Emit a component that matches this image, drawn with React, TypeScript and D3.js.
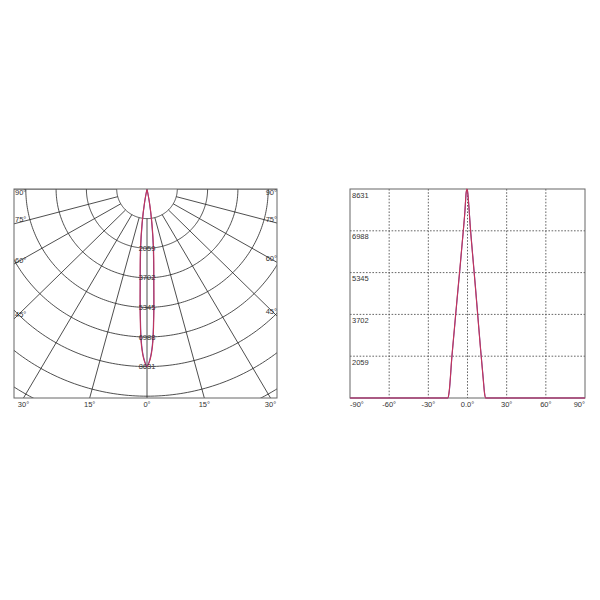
import React from 'react';
import * as d3 from 'd3';

// ---- data ----
// linear (cartesian) intensity curve, candela vs angle
const angles = [-90, -30, -16, -15, -14, -12, -10, -8, -6, -4, -2, -1, -0.5, 0, 1, 2, 4, 6, 8, 10, 12, 13, 14, 16, 30, 90];
const redValues = [0, 0, 0, 0, 300, 1700, 2900, 4100, 5250, 6450, 7700, 8500, 8631, 8560, 7950, 7150, 5850, 4600, 3300, 2000, 800, 200, 0, 0, 0, 0];
const blueValues = [0, 0, 0, 0, 250, 1650, 2850, 4050, 5200, 6420, 7680, 8480, 8600, 8540, 7970, 7200, 5900, 4650, 3350, 2050, 850, 250, 0, 0, 0, 0];
// polar curve, as drawn in the polar panel
const polarCurveAngles = [-90, -30, -12, -10, -8, -6, -4, -3, -2, -1, 0, 1, 2, 3, 4, 6, 8, 10, 12, 30, 90];
const polarRed = [0, 0, 0, 700, 1700, 3000, 4700, 6200, 7600, 8300, 8631, 8300, 7600, 6200, 4700, 3000, 1700, 700, 0, 0, 0];
const polarBlue = [0, 0, 0, 600, 1550, 2850, 4550, 6050, 7500, 8250, 8600, 8250, 7500, 6050, 4550, 2850, 1550, 600, 0, 0, 0];
const maxIntensity = 8631;
const intensityLabels = ['2059', '3702', '5345', '6988', '8631'];
const polarAngles = [-90, -75, -60, -45, -30, -15, 0, 15, 30, 45, 60, 75, 90];
const cartTicks = [-90, -60, -30, 0, 30, 60, 90];
const cartTickLabels = ['-90°', '-60°', '-30°', '0.0°', '30°', '60°', '90°'];

const FONT = '"Liberation Sans", Arial, sans-serif';
const TXT = '#333';
const RED = '#c5345a';
const BLUE = '#6b4fa8';

// polar panel geometry
const P = { left: 14, right: 277, top: 189, bottom: 398 };
const cx = 147, cy = 189;
const kx = 30.3, ky = 29.6; // pixels per ring step
const ringCount = 9;

function proj(deg: number, steps: number): [number, number] {
  const a = (deg * Math.PI) / 180;
  return [cx + Math.sin(a) * steps * kx, cy + Math.cos(a) * steps * ky];
}

// cartesian panel geometry
const C = { left: 350, right: 585, top: 189, bottom: 398 };

export default function App() {
  const rCurve = d3.scaleLinear().domain([0, maxIntensity]).range([0, 6]);
  const ringSteps = d3.range(1, ringCount + 1);
  const arcLine = d3.line<[number, number]>();
  const arcAngles = d3.range(-90, 90.5, 1);

  const polarLine = d3.line<[number, number]>().curve(d3.curveCatmullRom.alpha(0.5));
  const polarPts = (vals: number[]) => polarCurveAngles.map((a, i) => proj(a, rCurve(vals[i])));

  // angle label placement (ray exits box)
  const rayLabels = polarAngles.map((deg) => {
    const a = (deg * Math.PI) / 180;
    const dx = Math.sin(a) * kx, dy = Math.cos(a) * ky;
    let tSide = Infinity;
    if (dx < -1e-9) tSide = (P.left - cx) / dx;
    if (dx > 1e-9) tSide = (P.right - cx) / dx;
    const tBot = dy > 1e-9 ? (P.bottom - cy) / dy : Infinity;
    const label = `${Math.abs(deg)}°`;
    if (tSide <= tBot) {
      const y = Math.abs(deg) === 90 ? P.top + 3 : cy + dy * tSide - 4;
      return { label, x: deg < 0 ? P.left + 1 : P.right, y, anchor: deg < 0 ? 'start' : 'end' };
    }
    let x = cx + dx * tBot;
    let anchor = 'middle';
    if (x - 6 < P.left) { x = P.left; anchor = 'start'; }
    if (x + 6 > P.right) { x = P.right; anchor = 'end'; }
    return { label, x, y: P.bottom + 6, anchor };
  });

  const xS = d3.scaleLinear().domain([-90, 90]).range([C.left, C.right]);
  const yS = d3.scaleLinear().domain([0, maxIntensity]).range([C.bottom, C.top]);
  const cartLine = d3.line<number>()
    .x((_, i) => xS(angles[i]))
    .y((v) => yS(v))
    .curve(d3.curveMonotoneX);
  const gridFrac = intensityLabels.map((_, i) => ((i + 1) / intensityLabels.length) * maxIntensity);

  return (
    <svg width={600} height={600} style={{ position: 'absolute', left: 0, top: 0, display: 'block', background: '#fff' }}>
      <defs>
        <clipPath id="polarClip">
          <rect x={P.left} y={P.top} width={P.right - P.left} height={P.bottom - P.top} />
        </clipPath>
      </defs>

      {/* ---------- polar panel ---------- */}
      <g clipPath="url(#polarClip)" fill="none" stroke="#222" strokeWidth={0.8}>
        {ringSteps.map((k) => (
          <path key={`ring${k}`} d={arcLine(arcAngles.map((a) => proj(a, k))) || ''} />
        ))}
        {polarAngles.map((deg) => {
          const [x1, y1] = proj(deg, 1);
          const [x2, y2] = proj(deg, 14);
          return <line key={`ray${deg}`} x1={x1} y1={y1} x2={x2} y2={y2} />;
        })}
      </g>
      <g clipPath="url(#polarClip)" fill="none" strokeWidth={1.1}>
        <path d={polarLine(polarPts(polarBlue)) || ''} stroke={BLUE} />
        <path d={polarLine(polarPts(polarRed)) || ''} stroke={RED} />
      </g>
      <rect x={P.left} y={P.top} width={P.right - P.left} height={P.bottom - P.top} fill="none" stroke="#666" strokeWidth={1} />
      <g fontFamily={FONT} fontSize={7.5} fill={TXT}>
        {intensityLabels.map((lab, i) => {
          const [, y] = proj(0, i + 2);
          return (
            <text key={`rl${lab}`} x={cx} y={y} textAnchor="middle" dominantBaseline="central">{lab}</text>
          );
        })}
        {rayLabels.map((r, i) => (
          <text key={`al${i}`} x={r.x} y={r.y} textAnchor={r.anchor as any} dominantBaseline="central">{r.label}</text>
        ))}
      </g>

      {/* ---------- cartesian panel ---------- */}
      <g fill="none" stroke="#555" strokeWidth={0.9} strokeDasharray="1.6,1.6">
        {cartTicks.slice(1, -1).map((t) => (
          <line key={`vx${t}`} x1={xS(t)} x2={xS(t)} y1={C.top} y2={C.bottom} />
        ))}
        {gridFrac.slice(0, -1).map((v, i) => (
          <line key={`hy${i}`} x1={C.left} x2={C.right} y1={yS(v)} y2={yS(v)} />
        ))}
      </g>
      <rect x={C.left} y={C.top} width={C.right - C.left} height={C.bottom - C.top} fill="none" stroke="#666" strokeWidth={1} />
      <g fill="none" strokeWidth={1.1}>
        <path d={cartLine(blueValues) || ''} stroke={BLUE} />
        <path d={cartLine(redValues) || ''} stroke={RED} />
      </g>
      <g fontFamily={FONT} fontSize={7.5} fill={TXT}>
        {intensityLabels.map((lab, i) => (
          <text key={`yl${lab}`} x={C.left + 2} y={yS(gridFrac[i]) + 6} dominantBaseline="central">{lab}</text>
        ))}
        {cartTicks.map((t, i) => {
          const anchor = i === 0 ? 'start' : i === cartTicks.length - 1 ? 'end' : 'middle';
          return (
            <text key={`xl${t}`} x={xS(t)} y={C.bottom + 6} textAnchor={anchor} dominantBaseline="central">{cartTickLabels[i]}</text>
          );
        })}
      </g>
    </svg>
  );
}
